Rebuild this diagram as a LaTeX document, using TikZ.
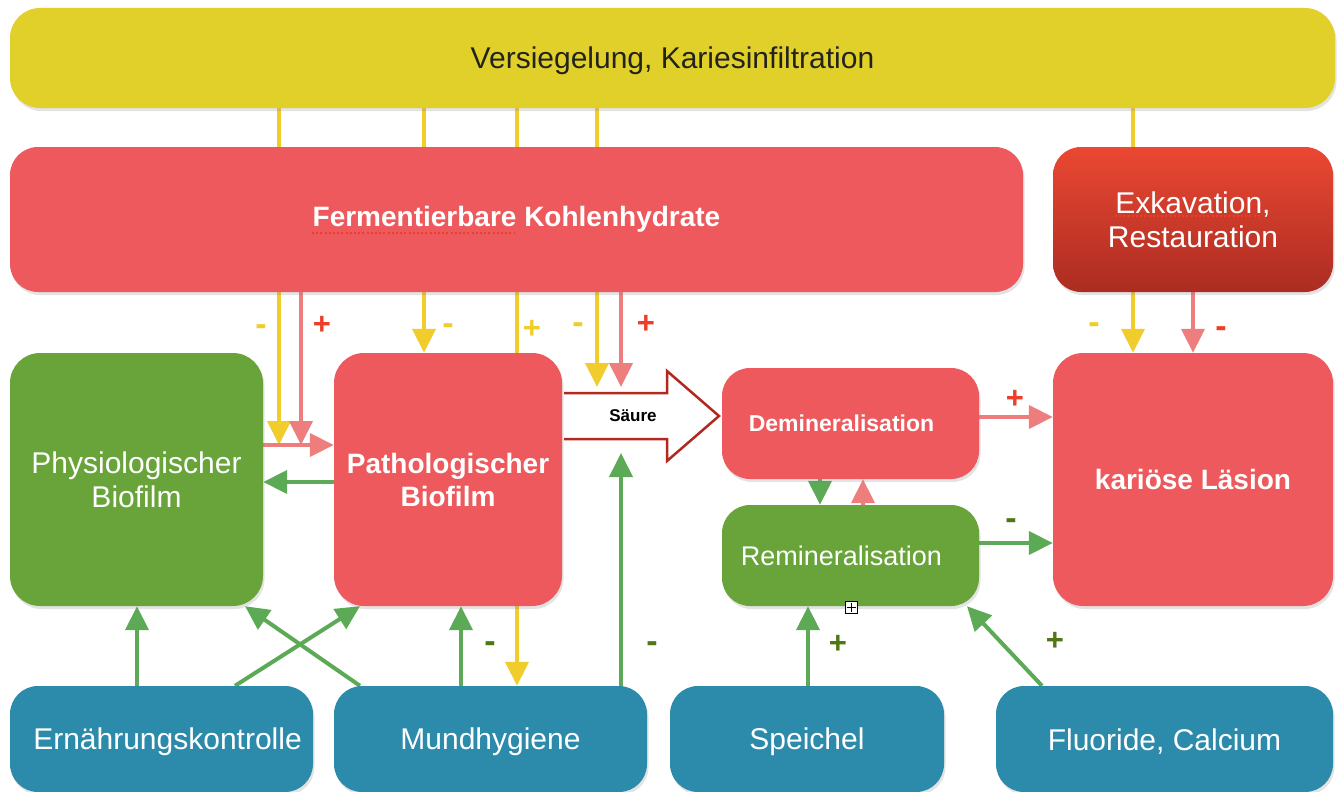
\documentclass[tikz,border=0pt]{standalone}
\usepackage{fontspec}
\setmainfont{Liberation Sans}
\usetikzlibrary{arrows.meta,shadows,calc}
\definecolor{cyel}{RGB}{226,208,42}
\definecolor{ctxt}{RGB}{35,35,30}
\definecolor{cred}{RGB}{237,89,92}
\definecolor{cexktop}{RGB}{234,72,50}
\definecolor{cexkbot}{RGB}{172,44,34}
\definecolor{cgreen}{RGB}{104,164,58}
\definecolor{cblue}{RGB}{44,139,170}
\definecolor{cyarr}{RGB}{240,205,45}
\definecolor{cparr}{RGB}{238,126,126}
\definecolor{cgarr}{RGB}{92,170,86}
\definecolor{clred}{RGB}{236,62,40}
\definecolor{cldgreen}{RGB}{78,120,22}
\definecolor{csaeure}{RGB}{178,40,30}
\newcommand{\lowtxt}[1]{\raisebox{-3pt}[\height][\depth]{#1}}
\pgfdeclarelayer{bg}
\pgfsetlayers{bg,main}
\begin{document}
\begin{tikzpicture}[x=1pt,y=-1pt,
  box/.style={rectangle, rounded corners=28pt, inner sep=0pt, text=white,
    drop shadow={opacity=0.22, shadow xshift=1.5pt, shadow yshift=-3pt}},
  boxc/.style={box, align=center},
  fbig/.style={font=\fontsize{30}{34}\selectfont},
  fbold/.style={font=\bfseries\fontsize{28}{33}\selectfont},
  tip/.style={-{Triangle[width=23pt,length=24pt]}},
  yarrow/.style={draw=cyarr, line width=4pt, tip},
  parrow/.style={draw=cparr, line width=4pt, tip},
  garrow/.style={draw=cgarr, line width=4pt, tip},
  lab/.style={font=\bfseries\fontsize{31}{31}\selectfont, inner sep=0pt},
  mlab/.style={font=\bfseries\fontsize{34}{34}\selectfont, inner sep=0pt},
  labY/.style={lab, text=cyarr},
  labR/.style={lab, text=clred},
  labG/.style={lab, text=cldgreen},
  mlabY/.style={mlab, text=cyarr},
  mlabR/.style={mlab, text=clred},
  mlabG/.style={mlab, text=cldgreen}]
\useasboundingbox (0,0) rectangle (1339,792);

% boxes
\node[box, fill=cyel, text=ctxt, fbig, rounded corners=30pt, minimum width=1325pt, minimum height=100pt] (vers) at (672.5,58) {\lowtxt{Versiegelung, Kariesinfiltration}};
\node[box, fill=cred, fbold, minimum width=1013pt, minimum height=145pt] (ferm) at (516.5,219.5) {Fermentierbare Kohlenhydrate};
\node[boxc, top color=cexktop, bottom color=cexkbot, fbig, minimum width=280pt, minimum height=145pt] (exk) at (1193,219.5) {Exkavation,\\Restauration};
\node[boxc, fill=cgreen, fbig, rounded corners=30pt, minimum width=253pt, minimum height=253pt] (phys) at (136.5,479.5) {Physiologischer\\Biofilm};
\node[boxc, fill=cred, fbold, rounded corners=30pt, minimum width=228pt, minimum height=253pt] (path) at (448,479.5) {Pathologischer\\Biofilm};
\node[box, fill=cred, font=\bfseries\fontsize{23}{27}\selectfont, minimum width=257pt, minimum height=111pt] (demin) at (850.5,423.5) {\hspace*{-18pt}Demineralisation};
\node[box, fill=cgreen, font=\fontsize{27}{31}\selectfont, minimum width=257pt, minimum height=101pt] (remin) at (850.5,555.5) {\hspace*{-18pt}Remineralisation};
\node[box, fill=cred, fbold, rounded corners=30pt, minimum width=280pt, minimum height=253pt] (kar) at (1193,479.5) {kariöse Läsion};
\node[box, fill=cblue, fbig, minimum width=303pt, minimum height=106pt] (ern) at (161.5,739) {\hspace*{12pt}\lowtxt{Ernährungskontrolle}};
\node[box, fill=cblue, fbig, minimum width=313pt, minimum height=106pt] (mund) at (490.5,739) {\lowtxt{Mundhygiene}};
\node[box, fill=cblue, fbig, minimum width=274pt, minimum height=106pt] (spei) at (807,739) {\lowtxt{Speichel}};
\node[box, fill=cblue, fbig, minimum width=337pt, minimum height=106pt] (fluo) at (1164.5,739) {\lowtxt{Fluoride, Calcium}};

% spell-check underlines
\draw[clred, line width=2pt, dash pattern=on 2pt off 2.2pt] (312,233) -- (514,233);
\draw[clred, line width=2pt, dash pattern=on 2pt off 2.2pt] (1115,216) -- (1262,216);

% acid arrow
\draw[draw=csaeure, line width=2.5pt, fill=white, line join=miter]
  (564,393) -- (667,393) -- (667,371) -- (719,416) -- (667,461) -- (667,439) -- (564,439);
\node[font=\bfseries\fontsize{17}{20}\selectfont, inner sep=1pt] (saeure) at (633,416) {Säure};

% free ends
\coordinate (j279) at (279,445);
\coordinate (j301) at (301,445);
\coordinate (s597) at (597,387);
\coordinate (s621) at (621,387);
\coordinate (s621b) at (621,453);

\begin{pgfonlayer}{bg}
% yellow from sealing
\draw[yarrow] (279,0 |- vers.south) -- (j279);
\draw[yarrow] (424,0 |- vers.south) -- (424,0 |- path.north);
\draw[yarrow] (517,0 |- vers.south) -- (517,0 |- mund.north);
\draw[yarrow] (597,0 |- vers.south) -- (s597);
\draw[yarrow] (1133,0 |- vers.south) -- (1133,0 |- kar.north);
% pink from carbohydrates / excavation
\draw[parrow] (301,0 |- ferm.south) -- (j301);
\draw[parrow] (621,0 |- ferm.south) -- (s621);
\draw[parrow] (1193,0 |- exk.south) -- (1193,0 |- kar.north);
% biofilm interplay
\draw[parrow] (phys.east |- 0,445) -- (path.west |- 0,445);
\draw[garrow] (path.west |- 0,482) -- (phys.east |- 0,482);
% from bottom row
\draw[garrow] (137,0 |- ern.north) -- (137,0 |- phys.south);
\draw[garrow] (235,0 |- ern.north) -- (360,0 |- path.south);
\draw[garrow] (360,0 |- mund.north) -- (245,0 |- phys.south);
\draw[garrow] (461,0 |- mund.north) -- (461,0 |- path.south);
\draw[garrow] (621,0 |- mund.north) -- (s621b);
\draw[garrow] (808,0 |- spei.north) -- (808,0 |- remin.south);
\draw[garrow] (1042,0 |- fluo.north) -- (967,0 |- remin.south);
% de/remineralisation
\draw[parrow] (demin.east |- 0,417) -- (kar.west |- 0,417);
\draw[garrow] (remin.east |- 0,543) -- (kar.west |- 0,543);
\draw[garrow] (820,0 |- demin.south) -- (820,0 |- remin.north);
\draw[parrow] (863,0 |- remin.north) -- (863,0 |- demin.south);
\end{pgfonlayer}

% labels
\node[mlabY] (l1) at (261,330) {-};
\node[labR] (l2) at (322,325) {+};
\node[mlabY] (l3) at (448,329) {-};
\node[labY] (l4) at (532,329) {+};
\node[mlabY] (l5) at (578,328) {-};
\node[labR] (l6) at (646,324) {+};
\node[mlabY] (l7) at (1094,328) {-};
\node[mlabR] (l8) at (1221,332) {-};
\node[labR] (l9) at (1015,399) {+};
\node[mlabG] (l10) at (1011,524) {-};
\node[mlabG] (l11) at (490,647) {-};
\node[mlabG] (l12) at (652,647) {-};
\node[labG] (l13) at (838,644) {+};
\node[labG] (l14) at (1055,641) {+};

% small plus box
\node[draw=black, fill=white, line width=1pt, minimum size=12pt, inner sep=0pt] (pbox) at (851,607) {};
\draw[line width=1pt, shorten >=2pt, shorten <=2pt] (pbox.north) -- (pbox.south);
\draw[line width=1pt, shorten >=2pt, shorten <=2pt] (pbox.west) -- (pbox.east);
\end{tikzpicture}
\end{document}
